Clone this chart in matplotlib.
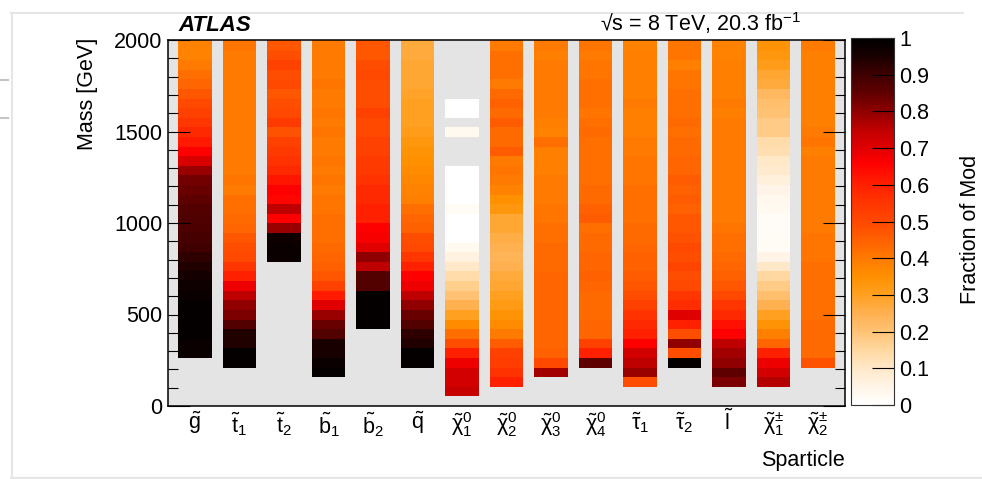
import numpy as np
import matplotlib
matplotlib.use('Agg')
import matplotlib.pyplot as plt
from matplotlib.colors import LinearSegmentedColormap, Normalize
from matplotlib.lines import Line2D
from matplotlib.ticker import MultipleLocator, FuncFormatter

plt.rcParams['font.family'] = ['Liberation Sans', 'DejaVu Sans']
plt.rcParams['mathtext.fontset'] = 'custom'
plt.rcParams['mathtext.rm'] = 'Liberation Sans'
plt.rcParams['mathtext.it'] = 'Liberation Sans:italic'
plt.rcParams['mathtext.bf'] = 'Liberation Sans:bold'

# ---------------- data ----------------
sparticle_labels = [r'$\tilde{\mathrm{g}}$', r'$\tilde{\mathrm{t}}_{1}$', r'$\tilde{\mathrm{t}}_{2}$',
                    r'$\tilde{\mathrm{b}}_{1}$', r'$\tilde{\mathrm{b}}_{2}$', r'$\tilde{\mathrm{q}}$',
                    r'$\tilde{\mathrm{\chi}}^{0}_{1}$', r'$\tilde{\mathrm{\chi}}^{0}_{2}$',
                    r'$\tilde{\mathrm{\chi}}^{0}_{3}$', r'$\tilde{\mathrm{\chi}}^{0}_{4}$',
                    r'$\tilde{\mathrm{\tau}}_{1}$', r'$\tilde{\mathrm{\tau}}_{2}$',
                    r'$\tilde{\mathrm{l}}$', r'$\tilde{\mathrm{\chi}}^{\pm}_{1}$',
                    r'$\tilde{\mathrm{\chi}}^{\pm}_{2}$']

BIN_WIDTH = 52.5      # GeV
TOP_EDGE = 2047.5     # upper edge of the highest bin (GeV)
nan = np.nan

# fraction of models excluded per mass bin, listed from the top bin downwards
gluino = [0.38, 0.38, 0.38, 0.40, 0.42, 0.44, 0.47, 0.50, 0.52, 0.55, 0.58, 0.61, 0.66, 0.71, 0.79, 0.83, 0.84,
          0.85, 0.87, 0.875, 0.88, 0.89, 0.90, 0.92, 0.94, 0.96, 0.97, 0.98, 0.99, 0.99, 0.99, 0.99, 0.98, 0.98]
stop1 = [0.41, 0.41, 0.40, 0.40, 0.40, 0.40, 0.40, 0.40, 0.40, 0.40, 0.40, 0.40, 0.40, 0.40, 0.40, 0.41, 0.40,
         0.42, 0.42, 0.43, 0.44, 0.47, 0.49, 0.50, 0.55, 0.60, 0.68, 0.75, 0.80, 0.82, 0.87, 0.94, 0.94, 0.99, 0.99]
stop2 = [0.47, 0.47, 0.49, 0.52, 0.49, 0.50, 0.47, 0.49, 0.50, 0.54, 0.48, 0.52, 0.54, 0.56, 0.58, 0.62, 0.66,
         0.65, 0.75, 0.66, 0.79, 0.97, 0.98, 0.98]
sbottom1 = [0.40, 0.40, 0.40, 0.40, 0.40, 0.41, 0.40, 0.40, 0.41, 0.40, 0.41, 0.40, 0.40, 0.41, 0.40, 0.41, 0.40,
            0.41, 0.41, 0.42, 0.42, 0.42, 0.43, 0.44, 0.45, 0.47, 0.52, 0.61, 0.70, 0.79, 0.84, 0.87, 0.95, 0.95,
            0.98, 0.99]
sbottom2 = [0.47, 0.47, 0.47, 0.49, 0.50, 0.49, 0.49, 0.49, 0.52, 0.50, 0.50, 0.52, 0.52, 0.54, 0.54, 0.56, 0.58,
            0.58, 0.60, 0.60, 0.66, 0.67, 0.70, 0.80, 0.75, 0.87, 0.87, 0.99, 0.99, 0.99, 0.99]
squark = [0.27, 0.27, 0.27, 0.28, 0.28, 0.28, 0.29, 0.30, 0.30, 0.30, 0.31, 0.33, 0.34, 0.35, 0.36, 0.37, 0.38,
          0.39, 0.42, 0.44, 0.45, 0.49, 0.50, 0.55, 0.60, 0.66, 0.68, 0.75, 0.80, 0.84, 0.87, 0.92, 0.94, 0.99, 0.99]
neutralino1 = [nan, nan, nan, nan, nan, nan, nan, 0.0, 0.0, nan, 0.03, nan, nan, nan, 0.0, 0.0, 0.0, 0.0, 0.02,
               0.0, 0.0, 0.0, 0.03, 0.06, 0.10, 0.14, 0.17, 0.20, 0.25, 0.30, 0.36, 0.42, 0.49, 0.60, 0.68, 0.72,
               0.72, 0.74]
neutralino2 = [0.40, 0.40, 0.42, 0.42, 0.42, 0.40, 0.43, 0.45, 0.43, 0.46, 0.43, 0.43, 0.46, 0.40, 0.41, 0.40,
               0.38, 0.35, 0.33, 0.28, 0.28, 0.26, 0.25, 0.24, 0.25, 0.27, 0.28, 0.30, 0.32, 0.34, 0.36, 0.40,
               0.46, 0.52, 0.53, 0.56, 0.60]
neutralino3 = [0.40, 0.40, 0.39, 0.40, 0.40, 0.40, 0.40, 0.40, 0.40, 0.39, 0.38, 0.42, 0.39, 0.39, 0.39, 0.40,
               0.40, 0.40, 0.41, 0.41, 0.42, 0.42, 0.43, 0.43, 0.43, 0.44, 0.44, 0.44, 0.44, 0.44, 0.44, 0.44,
               0.44, 0.45, 0.50, 0.78]
neutralino4 = [0.41, 0.41, 0.40, 0.41, 0.41, 0.42, 0.42, 0.42, 0.41, 0.42, 0.43, 0.42, 0.42, 0.42, 0.42, 0.42,
               0.43, 0.43, 0.45, 0.46, 0.42, 0.43, 0.43, 0.44, 0.44, 0.45, 0.44, 0.43, 0.43, 0.43, 0.44, 0.44,
               0.52, 0.60, 0.85]
stau1 = [0.38, 0.38, 0.39, 0.39, 0.39, 0.39, 0.39, 0.40, 0.39, 0.39, 0.39, 0.40, 0.40, 0.41, 0.41, 0.41, 0.42,
         0.42, 0.42, 0.42, 0.43, 0.43, 0.44, 0.45, 0.45, 0.46, 0.47, 0.49, 0.52, 0.56, 0.58, 0.60, 0.66, 0.72,
         0.75, 0.79, 0.49]
stau2 = [0.41, 0.41, 0.41, 0.39, 0.41, 0.41, 0.42, 0.42, 0.42, 0.43, 0.42, 0.43, 0.43, 0.44, 0.44, 0.46, 0.45,
         0.46, 0.45, 0.47, 0.47, 0.48, 0.50, 0.49, 0.51, 0.49, 0.50, 0.55, 0.57, 0.70, 0.60, 0.49, 0.80, 0.49, 0.99]
slepton = [0.38, 0.38, 0.38, 0.39, 0.39, 0.39, 0.39, 0.40, 0.39, 0.40, 0.40, 0.40, 0.40, 0.40, 0.40, 0.40, 0.40,
           0.40, 0.40, 0.40, 0.41, 0.42, 0.42, 0.43, 0.44, 0.45, 0.47, 0.50, 0.55, 0.58, 0.63, 0.66, 0.75, 0.78,
           0.80, 0.85, 0.82]
chargino1 = [0.34, 0.34, 0.33, 0.31, 0.28, 0.27, 0.23, 0.21, 0.20, 0.18, 0.18, 0.14, 0.13, 0.10, 0.09, 0.07,
             0.05, 0.035, 0.03, 0.015, 0.015, 0.02, 0.02, 0.05, 0.10, 0.15, 0.18, 0.21, 0.25, 0.30, 0.34, 0.39,
             0.44, 0.60, 0.68, 0.72, 0.76]
chargino2 = [0.40, 0.40, 0.39, 0.39, 0.39, 0.39, 0.39, 0.39, 0.39, 0.39, 0.40, 0.41, 0.39, 0.40, 0.40, 0.40,
             0.40, 0.40, 0.40, 0.40, 0.40, 0.41, 0.41, 0.41, 0.42, 0.42, 0.42, 0.42, 0.42, 0.42, 0.43, 0.43,
             0.43, 0.43, 0.48]

columns = [gluino, stop1, stop2, sbottom1, sbottom2, squark, neutralino1, neutralino2, neutralino3,
           neutralino4, stau1, stau2, slepton, chargino1, chargino2]

y_ticks = [0, 500, 1000, 1500, 2000]
cbar_ticks = [0, 0.1, 0.2, 0.3, 0.4, 0.5, 0.6, 0.7, 0.8, 0.9, 1.0]

# colour palette (value -> colour)
palette_levels = [0.0, 0.05, 0.10, 0.15, 0.20, 0.25, 0.30, 0.35, 0.40, 0.45, 0.50, 0.55, 0.60, 0.66,
                  0.70, 0.75, 0.80, 0.85, 0.90, 0.95, 1.0]
palette_colors = ['#ffffff', '#fff4e6', '#ffe8c8', '#ffd8a0', '#ffc274', '#ffb050', '#ffa020', '#ff9000',
                  '#ff7a00', '#ff6000', '#ff4800', '#ff3600', '#ff2000', '#ff0000', '#e00000', '#c00000',
                  '#900000', '#600000', '#400000', '#1a0000', '#000000']

# ---------------- figure ----------------
W, H = 982, 479
fig = plt.figure(figsize=(W / 100, H / 100), dpi=100)
fig.patch.set_facecolor('white')

cmap = LinearSegmentedColormap.from_list('excl', list(zip(palette_levels, palette_colors)), N=512)
norm = Normalize(vmin=0, vmax=1)

ax = fig.add_axes([168 / W, 1 - 406 / H, 677 / W, 366 / H])
ax.set_facecolor('#e4e4e4')

bar_half = 0.375
mesh = None
for i, vals in enumerate(columns):
    v = np.array(vals[::-1], dtype=float)           # bottom -> top
    n = len(v)
    yedges = TOP_EDGE - BIN_WIDTH * np.arange(n, -1, -1)
    xedges = np.array([i - bar_half, i + bar_half])
    mesh = ax.pcolormesh(xedges, yedges, np.ma.masked_invalid(v).reshape(-1, 1), cmap=cmap, norm=norm,
                         shading='flat', edgecolors='face', linewidth=0, antialiased=False)

ax.set_xlim(-0.607, len(columns) - 1 + 0.607)
ax.set_ylim(0, 2000)
ax.set_yticks(y_ticks)
ax.yaxis.set_minor_locator(MultipleLocator(100))
ax.tick_params(axis='y', which='major', direction='in', length=16, width=0.8, left=True, right=True,
               labelsize=15.5, pad=4)
ax.tick_params(axis='y', which='minor', direction='in', length=7.5, width=0.8, left=True, right=True)
ax.set_xticks(range(len(columns)))
ax.set_xticklabels(sparticle_labels, fontsize=15.5)
ax.tick_params(axis='x', which='both', length=0, pad=3)
for sp in ax.spines.values():
    sp.set_linewidth(1.1)
    sp.set_color('black')

# colour bar
cax = fig.add_axes([851 / W, 1 - 405 / H, 43 / W, 367 / H])
cb = fig.colorbar(mesh, cax=cax, ticks=cbar_ticks)
cb.ax.yaxis.set_major_formatter(FuncFormatter(lambda x, p: f'{x:g}'))
cb.ax.tick_params(direction='in', length=16, width=0.8, labelsize=15.5, right=True, left=False, pad=4)
cb.ax.minorticks_off()
cb.outline.set_linewidth(0.8)
cb.outline.set_edgecolor('#333333')

# texts
fig.text(178 / W, 1 - 31 / H, 'ATLAS', fontsize=16, fontweight='bold', fontstyle='italic',
         ha='left', va='baseline')
fig.text(600 / W, 1 - 31 / H, '\u221as = 8 TeV, 20.3 fb$^{-1}$', fontsize=15.5, ha='left', va='baseline')
fig.text(88 / W, 1 - 38 / H, 'Mass [GeV]', fontsize=15.5, rotation=90, ha='center', va='top')
fig.text(845 / W, 1 - 466 / H, 'Sparticle', fontsize=15.5, ha='right', va='baseline')
fig.text(971 / W, 1 - 229 / H, 'Fraction of Mod', fontsize=15.5, rotation=90, ha='center', va='center')

# window frame remnants visible in the screenshot
frame_c = '#e6e6e6'
fig.add_artist(Line2D([11 / W, 963 / W], [1 - 13 / H, 1 - 13 / H], color=frame_c, lw=1.5))
fig.add_artist(Line2D([11.5 / W, 11.5 / W], [1 - 13 / H, 1 - 478 / H], color=frame_c, lw=1.5))
fig.add_artist(Line2D([11 / W, 1.0], [1 - 478 / H, 1 - 478 / H], color=frame_c, lw=1.5))
for yy in (80, 118):
    fig.add_artist(Line2D([0, 8 / W], [1 - yy / H, 1 - yy / H], color='#c4c4c4', lw=1.5))

fig.savefig('out.png', dpi=100)
